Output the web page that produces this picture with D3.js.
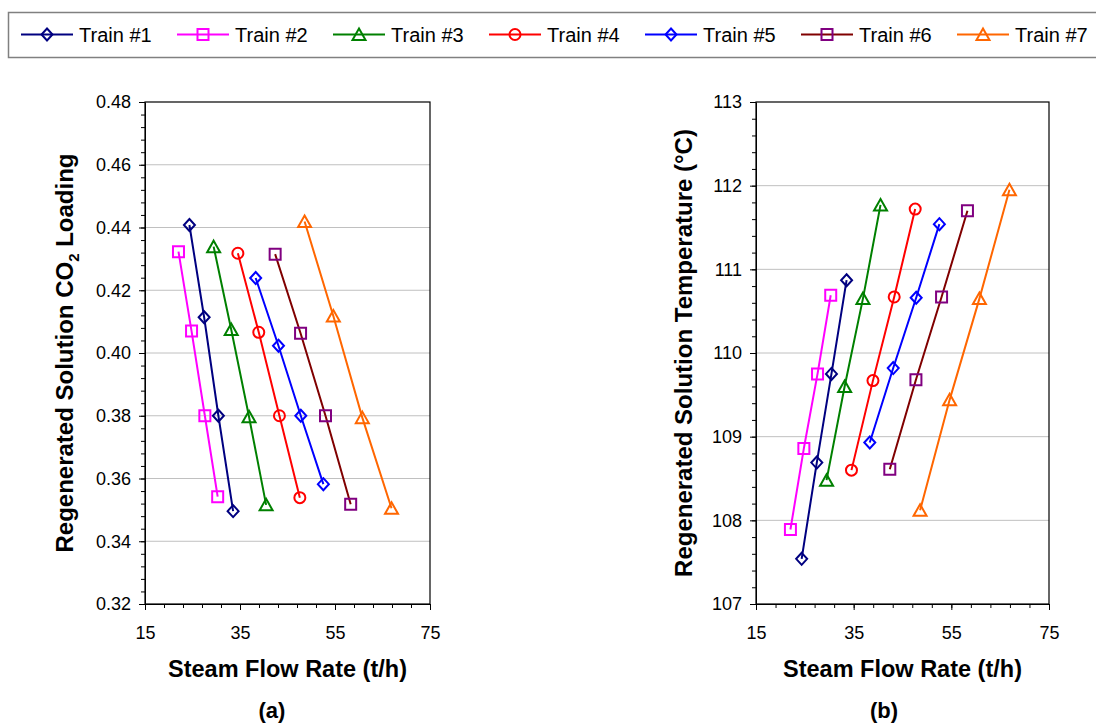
<!DOCTYPE html>
<html>
<head>
<meta charset="utf-8">
<script src="https://cdn.jsdelivr.net/npm/d3@7"></script>
<style>
  html, body { margin: 0; padding: 0; background: #fff; }
  svg { display: block; font-family: Arial, "Liberation Sans", sans-serif; }
</style>
</head>
<body>
<svg id="chart" width="1096" height="727"></svg>
<script>
// Series definitions
const trainNames = ["Train #1", "Train #2", "Train #3", "Train #4", "Train #5", "Train #6", "Train #7"];
const lineColors = ["#000080", "#FF00FF", "#008000", "#FF0000", "#0000FF", "#800000", "#FF6600"];
const markerColors = ["#000080", "#FF00FF", "#008000", "#FF0000", "#0000FF", "#800080", "#FF6600"];
const markerShapes = ["diamond", "square", "triangle", "circle", "diamond", "square", "triangle"];

// Steam flow rate (t/h), one row per train
const steamFlow = [
  [24.35, 27.45, 30.45, 33.55],
  [22.05, 24.8, 27.6, 30.3],
  [29.45, 33.15, 36.9, 40.5],
  [34.55, 38.95, 43.3, 47.6],
  [38.3, 43.1, 47.8, 52.55],
  [42.4, 47.75, 53.0, 58.3],
  [48.6, 54.65, 60.75, 66.9]
];

// Regenerated solution CO2 loading
const co2Loading = [
  [0.4408, 0.4114, 0.380, 0.3496],
  [0.4323, 0.4070, 0.380, 0.3542],
  [0.4339, 0.4075, 0.3797, 0.3516],
  [0.4318, 0.4066, 0.380, 0.3539],
  [0.4239, 0.4023, 0.380, 0.3582],
  [0.4315, 0.4063, 0.380, 0.3518],
  [0.4419, 0.4118, 0.3794, 0.3505]
];

// Regenerated solution temperature (°C)
const solutionTemp = [
  [107.54, 108.69, 109.75, 110.87],
  [107.89, 108.86, 109.75, 110.69],
  [108.48, 109.60, 110.65, 111.77],
  [108.60, 109.67, 110.67, 111.72],
  [108.93, 109.82, 110.66, 111.54],
  [108.61, 109.68, 110.67, 111.70],
  [108.12, 109.44, 110.65, 111.95]
];

// Axis ticks
const flowTicks = [15, 35, 55, 75];
const loadingTicks = [0.32, 0.34, 0.36, 0.38, 0.40, 0.42, 0.44, 0.46, 0.48];
const tempTicks = [107, 108, 109, 110, 111, 112, 113];

const svg = d3.select("#chart");
const FONT = 'Arial, "Liberation Sans", sans-serif';

function markerPath(shape) {
  switch (shape) {
    case "diamond": return "M0,-6L5.5,0L0,6L-5.5,0Z";
    case "square": return "M-5.5,-5.5H5.5V5.5H-5.5Z";
    case "triangle": return "M0,-6L6.5,5.5H-6.5Z";
    case "circle": return "M5.5,0A5.5,5.5 0 1,1 -5.5,0A5.5,5.5 0 1,1 5.5,0Z";
  }
}

function drawPanel(opts) {
  const { left, right, top, bottom, yDomain, yTicks, yMinorStep, yFormat, yValues, panelLabel, yTitle } = opts;
  const x = d3.scaleLinear().domain([15, 75]).range([left, right]);
  const y = d3.scaleLinear().domain(yDomain).range([bottom, top]);
  const g = svg.append("g");

  // gridlines
  g.append("g").selectAll("line")
    .data(yTicks.slice(1, -1))
    .join("line")
    .attr("x1", left).attr("x2", right)
    .attr("y1", d => y(d)).attr("y2", d => y(d))
    .attr("stroke", "#c0c0c0").attr("stroke-width", 1);

  // minor ticks
  const xMinor = d3.range(15, 75.001, 4);
  const yMinor = d3.range(yDomain[0], yDomain[1] + yMinorStep / 2, yMinorStep);
  g.append("g").attr("transform", `translate(0,${bottom})`)
    .call(d3.axisBottom(x).tickValues(xMinor).tickFormat("").tickSize(4).tickSizeOuter(0))
    .call(a => a.select(".domain").remove());
  g.append("g").attr("transform", `translate(${left},0)`)
    .call(d3.axisLeft(y).tickValues(yMinor).tickFormat("").tickSize(4).tickSizeOuter(0))
    .call(a => a.select(".domain").remove());

  // major axes
  const xa = g.append("g").attr("transform", `translate(0,${bottom})`)
    .call(d3.axisBottom(x).tickValues(flowTicks).tickSize(6).tickPadding(16).tickSizeOuter(0));
  const ya = g.append("g").attr("transform", `translate(${left},0)`)
    .call(d3.axisLeft(y).tickValues(yTicks).tickFormat(yFormat).tickSize(6).tickPadding(8).tickSizeOuter(0));
  [xa, ya].forEach(a => {
    a.selectAll("text").attr("font-size", 18).attr("font-family", FONT).attr("fill", "#000");
    a.select(".domain").attr("stroke", "#000");
  });
  g.selectAll(".tick line").attr("stroke", "#000");

  // plot border
  g.append("rect")
    .attr("x", left).attr("y", top)
    .attr("width", right - left).attr("height", bottom - top)
    .attr("fill", "none").attr("stroke", "#000").attr("stroke-width", 1.2);

  // series
  const line = d3.line().x(d => x(d[0])).y(d => y(d[1]));
  trainNames.forEach((name, i) => {
    const pts = steamFlow[i].map((f, j) => [f, yValues[i][j]]);
    g.append("path")
      .attr("d", line(pts))
      .attr("fill", "none")
      .attr("stroke", lineColors[i])
      .attr("stroke-width", 2);
    g.append("g").selectAll("path")
      .data(pts)
      .join("path")
      .attr("transform", d => `translate(${x(d[0])},${y(d[1])})`)
      .attr("d", markerPath(markerShapes[i]))
      .attr("fill", "none")
      .attr("stroke", markerColors[i])
      .attr("stroke-width", 2);
  });

  // x axis title
  g.append("text")
    .attr("x", (left + right) / 2).attr("y", 677)
    .attr("text-anchor", "middle")
    .attr("font-size", 23.5).attr("font-weight", "bold").attr("font-family", FONT)
    .text("Steam Flow Rate (t/h)");

  // y axis title
  const yt = g.append("text")
    .attr("transform", `translate(${opts.yTitleX},${(top + bottom) / 2}) rotate(-90)`)
    .attr("text-anchor", "middle")
    .attr("font-size", 24).attr("font-weight", "bold").attr("font-family", FONT);
  yTitle(yt);

  // panel label
  g.append("text")
    .attr("x", opts.panelLabelX).attr("y", 718)
    .attr("text-anchor", "middle")
    .attr("font-size", 22).attr("font-weight", "bold").attr("font-family", FONT)
    .text(panelLabel);
}

drawPanel({
  left: 145, right: 430, top: 102, bottom: 604,
  yDomain: [0.32, 0.48], yTicks: loadingTicks, yMinorStep: 0.004,
  yFormat: d3.format(".2f"), yValues: co2Loading, panelLabel: "(a)",
  panelLabelX: 272, yTitleX: 73,
  yTitle: t => {
    t.append("tspan").text("Regenerated Solution CO");
    t.append("tspan").attr("font-size", 15).attr("dy", 6).text("2");
    t.append("tspan").attr("dy", -6).text(" Loading");
  }
});

drawPanel({
  left: 756, right: 1049, top: 102, bottom: 604,
  yDomain: [107, 113], yTicks: tempTicks, yMinorStep: 0.2,
  yFormat: d3.format("d"), yValues: solutionTemp, panelLabel: "(b)",
  panelLabelX: 884, yTitleX: 692,
  yTitle: t => t.text("Regenerated Solution Temperature (°C)")
});

// legend
const legend = svg.append("g");
legend.append("rect")
  .attr("x", 8.5).attr("y", 12.5).attr("width", 1100).attr("height", 45)
  .attr("fill", "#fff").attr("stroke", "#808080").attr("stroke-width", 1.5);
trainNames.forEach((name, i) => {
  const x0 = 21 + 156 * i;
  const item = legend.append("g").attr("transform", `translate(${x0},34.5)`);
  item.append("line").attr("x1", 0).attr("x2", 52).attr("y1", 0).attr("y2", 0)
    .attr("stroke", lineColors[i]).attr("stroke-width", 2);
  item.append("path").attr("transform", "translate(26,0)")
    .attr("d", markerPath(markerShapes[i]))
    .attr("fill", "none").attr("stroke", markerColors[i]).attr("stroke-width", 2);
  item.append("text").attr("x", 58).attr("y", 7)
    .attr("font-size", 20).attr("font-family", FONT).attr("fill", "#000")
    .text(name);
});
</script>
</body>
</html>
